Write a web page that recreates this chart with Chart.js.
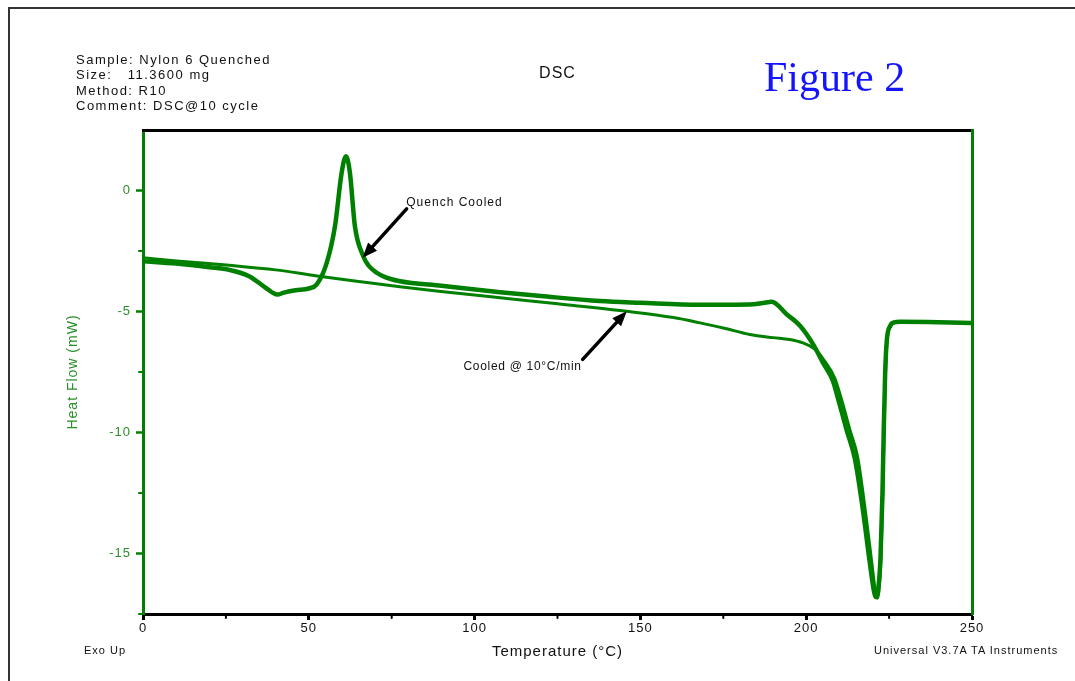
<!DOCTYPE html>
<html><head><meta charset="utf-8">
<script src="https://cdn.jsdelivr.net/npm/chart.js@4.4.1/dist/chart.umd.min.js"></script>
<style>
html,body{margin:0;padding:0;background:#fff;width:1075px;height:681px;overflow:hidden;}
#wrap{position:relative;width:1075px;height:681px;}
canvas{position:absolute;left:0;top:0;}
.t{position:absolute;font-family:"Liberation Sans",Arial,sans-serif;color:#111;white-space:pre;}
#frame{position:absolute;left:8px;top:7px;width:1080px;height:690px;border-left:2px solid #333;border-top:2px solid #333;}
</style></head><body>
<div id="wrap">
<canvas id="c" width="1075" height="681"></canvas>
<div id="frame"></div>
<div class="t" style="left:76px;top:52px;font-size:13px;line-height:15.3px;letter-spacing:1.5px;">Sample: Nylon 6 Quenched
Size:   11.3600 mg
Method: R10
Comment: DSC@10 cycle</div>
<div class="t" style="left:764px;top:53px;font-family:'Liberation Serif','Times New Roman',serif;font-size:42px;color:#1414ff;letter-spacing:0;">Figure 2</div>
<div class="t" style="left:84px;top:644px;font-size:11px;letter-spacing:1px;">Exo Up</div>
<div class="t" style="left:874px;top:644px;font-size:11px;letter-spacing:1px;">Universal V3.7A TA Instruments</div>
</div>
<script>
// ---- data ----
const tempQuench = [0, 10, 20, 26, 32, 37, 40.5, 42.5, 46, 50, 52.4, 55.4, 57.9, 59.9, 61.2, 62.4, 63.9, 66.4, 68, 70.5, 73, 77.5, 90, 107.7, 120, 137.8, 150, 168, 183, 187, 189.6, 194, 198.2, 202.1, 205, 208, 210, 212.2, 214.7, 217.2, 219.2, 220.5, 221, 221.6, 222.4, 223, 223.4, 223.8, 224.3, 225.3, 226.5, 228.3, 240, 250];
const heatQuench = [-2.92, -3.02, -3.17, -3.28, -3.54, -4.02, -4.30, -4.22, -4.12, -4.05, -3.88, -2.99, -1.47, 0.73, 1.42, 0.73, -1.47, -2.71, -3.1, -3.4, -3.58, -3.75, -3.94, -4.2, -4.36, -4.57, -4.64, -4.72, -4.71, -4.65, -4.6, -5.1, -5.6, -6.36, -7.1, -7.85, -8.8, -9.9, -11.1, -13.3, -15.4, -16.6, -16.8, -16.6, -15.2, -12.5, -9.8, -7.6, -6.2, -5.6, -5.45, -5.42, -5.44, -5.48];
const tempCooled = [0, 11, 26, 40, 52, 65, 77.5, 92, 107.7, 125, 145.9, 160, 168, 175, 183, 190, 195, 199, 202.6, 205.3, 208.6, 211, 213.2, 215.5, 217.9, 219.8, 220.9, 221.4, 221.9, 222.6, 223.1, 223.5, 223.9, 224.4, 225.5, 227, 229, 240, 250];
const heatCooled = [-2.78, -2.92, -3.09, -3.28, -3.52, -3.76, -3.98, -4.2, -4.43, -4.68, -4.99, -5.25, -5.47, -5.68, -5.95, -6.08, -6.16, -6.3, -6.55, -7.0, -7.75, -8.8, -9.9, -11.0, -13.3, -15.4, -16.6, -16.85, -16.6, -15.0, -12.5, -9.8, -7.6, -6.2, -5.6, -5.45, -5.43, -5.44, -5.48];
const xLabelTicks = [0, 50, 100, 150, 200, 250];
const xMinorTicks = [25, 75, 125, 175, 225];
const yLabelTicks = [0, -5, -10, -15];
const yMinorTicks = [-2.5, -7.5, -12.5, -17.5];

const GREEN = '#008000';
const LABEL_GREEN = '#2b8f2b';
const pts = (xs, ys) => xs.map((x, i) => ({x: x, y: ys[i]}));

const decor = {
  id: 'decor',
  beforeDraw(chart) { chart.ctx.letterSpacing = '1px'; },
  afterDraw(chart) {
    const {ctx, chartArea: ca} = chart;
    const x = chart.scales.x, y = chart.scales.y;
    ctx.save();
    ctx.lineCap = 'round';
    ctx.strokeStyle = GREEN; ctx.lineWidth = 2;
    yMinorTicks.forEach(v => {
      const py = y.getPixelForValue(v);
      ctx.beginPath(); ctx.moveTo(ca.left - 4, py); ctx.lineTo(ca.left, py); ctx.stroke();
    });
    ctx.strokeStyle = '#000';
    xMinorTicks.forEach(v => {
      const px = x.getPixelForValue(v);
      ctx.beginPath(); ctx.moveTo(px, ca.bottom); ctx.lineTo(px, ca.bottom + 4); ctx.stroke();
    });
    // arrows
    const arrow = (t0, v0, t1, v1) => {
      const x0 = x.getPixelForValue(t0), y0 = y.getPixelForValue(v0);
      const x1 = x.getPixelForValue(t1), y1 = y.getPixelForValue(v1);
      const a = Math.atan2(y1 - y0, x1 - x0);
      const L = 15, W = 6;
      const bx = x1 - L * Math.cos(a), by = y1 - L * Math.sin(a);
      ctx.strokeStyle = '#000'; ctx.fillStyle = '#000'; ctx.lineWidth = 3.5;
      ctx.beginPath(); ctx.moveTo(x0, y0); ctx.lineTo(bx, by); ctx.stroke();
      ctx.beginPath();
      ctx.moveTo(x1, y1);
      ctx.lineTo(bx + W * Math.sin(a), by - W * Math.cos(a));
      ctx.lineTo(bx - W * Math.sin(a), by + W * Math.cos(a));
      ctx.closePath(); ctx.fill();
    };
    arrow(79.5, -0.76, 66.2, -2.78);
    arrow(132.6, -6.98, 145.9, -4.99);
    ctx.font = '12px "Liberation Sans", Arial, sans-serif';
    ctx.fillStyle = '#111';
    ctx.textBaseline = 'alphabetic';
    ctx.letterSpacing = '1px';
    ctx.textAlign = 'left';
    ctx.fillText('Quench Cooled', x.getPixelForValue(79.4), y.getPixelForValue(-0.65));
    ctx.letterSpacing = '0.7px';
    ctx.textAlign = 'right';
    ctx.fillText('Cooled @ 10°C/min', x.getPixelForValue(132.3), y.getPixelForValue(-7.4));
    ctx.restore();
    ctx.letterSpacing = '0px';
  }
};

new Chart(document.getElementById('c'), {
  type: 'scatter',
  data: {
    datasets: [
      {label: 'Quench Cooled', data: pts(tempQuench, heatQuench), showLine: true, borderColor: GREEN, backgroundColor: GREEN, borderWidth: 4.5, pointRadius: 0, cubicInterpolationMode: 'monotone', xAxisID: 'x', yAxisID: 'y'},
      {label: 'Cooled @ 10°C/min', data: pts(tempCooled, heatCooled), showLine: true, borderColor: GREEN, backgroundColor: GREEN, borderWidth: 3, pointRadius: 0, cubicInterpolationMode: 'monotone', xAxisID: 'x', yAxisID: 'y'}
    ]
  },
  options: {
    responsive: false,
    animation: false,
    devicePixelRatio: 1,
    layout: {padding: {top: 0, left: 65, right: 103, bottom: 20}},
    plugins: {
      legend: {display: false},
      tooltip: {enabled: false},
      title: {display: true, text: 'DSC', fullSize: false, color: '#111',
        font: {family: '"Liberation Sans", Arial, sans-serif', size: 16, weight: 'normal'},
        padding: {top: 64.4, bottom: 46.4}}
    },
    scales: {
      x: {
        type: 'linear', position: 'bottom', min: 0, max: 250,
        afterBuildTicks: s => { s.ticks = xLabelTicks.map(v => ({value: v})); },
        afterFit: s => { s.height = 47; },
        ticks: {color: '#111', padding: 1, font: {family: '"Liberation Sans", Arial, sans-serif', size: 13}, maxRotation: 0},
        grid: {display: true, drawOnChartArea: false, drawTicks: true, tickLength: 6, tickWidth: 3, tickColor: '#000'},
        border: {display: true, color: '#000', width: 3},
        title: {display: true, text: 'Temperature (°C)', color: '#111', padding: 0,
          font: {family: '"Liberation Sans", Arial, sans-serif', size: 15}}
      },
      y: {
        type: 'linear', position: 'left', min: -17.5, max: 2.5,
        afterBuildTicks: s => { s.ticks = yLabelTicks.map(v => ({value: v})); },
        afterFit: s => { s.width = 143 - 65; },
        ticks: {color: LABEL_GREEN, padding: 5, font: {family: '"Liberation Sans", Arial, sans-serif', size: 13}},
        grid: {display: true, drawOnChartArea: false, drawTicks: true, tickLength: 7, tickWidth: 2.5, tickColor: GREEN},
        border: {display: true, color: GREEN, width: 3},
        title: {display: true, text: 'Heat Flow (mW)', color: LABEL_GREEN, padding: 0,
          font: {family: '"Liberation Sans", Arial, sans-serif', size: 14}}
      },
      x2: {
        type: 'linear', position: 'top', min: 0, max: 250, display: true,
        afterFit: s => { s.height = 0; },
        ticks: {display: false}, grid: {display: false, drawTicks: false},
        border: {display: true, color: '#000', width: 3}
      },
      y2: {
        type: 'linear', position: 'right', min: -17.5, max: 2.5, display: true,
        afterFit: s => { s.width = 0; },
        ticks: {display: false}, grid: {display: false, drawTicks: false},
        border: {display: true, color: GREEN, width: 3}
      }
    }
  },
  plugins: [decor]
});
</script>
</body></html>
